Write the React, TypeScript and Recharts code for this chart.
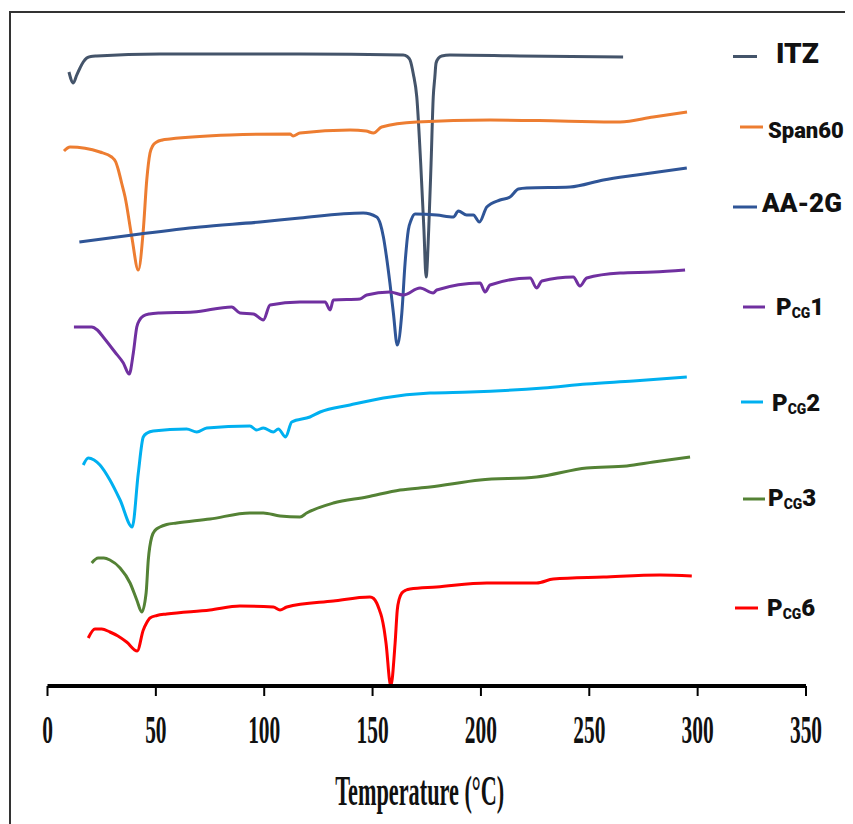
import React from "react";
import { LineChart, Line, XAxis, YAxis, Label } from "recharts";

// DSC thermograms, heat flow in arbitrary units (curves offset for clarity)
const itzTemp = [9.9, 11.9, 13.5, 15.0, 16.5, 18.1, 20.0, 22.7, 51.9, 84.2, 116.5, 164.1, 166.0, 167.3, 168.8, 170.4, 172.2, 173.7, 174.7, 175.9, 177.0, 178.0, 178.7, 179.3, 180.5, 181.9, 185.7, 218, 265.6];
const itzHeat = [614, 603, 611, 618, 624, 628, 629.5, 630, 632, 632, 632, 631, 629.5, 626, 612, 589, 523, 456, 409, 456, 523, 589, 608, 623, 628, 630, 631, 630, 629];

const spanTemp = [7.6, 10.4, 24.2, 29.6, 31.5, 32.7, 34.2, 35.8, 38.9, 41.9, 44.2, 45.8, 47.3, 48.5, 50.4, 53.0, 56.5, 84.2, 111.9, 113.3, 116.5, 139.6, 147, 150.4, 154.2, 170.4, 204.2, 236.5, 264.2, 279.5, 295.1];
const spanHeat = [535, 539, 534, 529, 524, 516, 503, 489, 449, 416, 456, 506, 533, 540, 544, 546, 547, 551, 552, 550, 553, 556, 555, 553, 559, 564, 566, 565, 564, 569, 574];

const aaTemp = [14.7, 42.7, 70.4, 98.1, 116.5, 145.7, 151.9, 153.6, 155.0, 156.5, 158.0, 159.6, 161.4, 163.5, 165.0, 166.5, 167.8, 169.6, 179.6, 187.3, 189.6, 193.4, 196.5, 199.3, 202.7, 208.8, 213.4, 217.3, 221.1, 241.1, 256.5, 271.9, 295.0];
const aaHeat = [444, 452, 459, 464, 468, 473, 469, 462, 449, 428, 403, 373, 341, 373, 423, 456, 466, 472, 471, 469, 475, 471, 471, 464, 479, 486, 489, 497, 498, 499, 506, 511, 518];

const pcg1Temp = [12.2, 20.4, 23.0, 25.7, 31.1, 35.0, 37.7, 39.6, 41.2, 42.5, 44.2, 47.0, 51.9, 67.3, 85.0, 88.8, 95.0, 99.6, 102.7, 116.5, 128.1, 130.4, 131.9, 144.2, 147.3, 158.0, 164.2, 171.9, 178.0, 179.6, 199.6, 201.9, 204.2, 222.7, 225.7, 228.1, 242.6, 245.7, 248.8, 264.2, 279.6, 294.2];
const pcg1Heat = [359, 359, 356, 349, 334, 323, 312, 333, 359, 366, 370, 372, 373, 374, 379, 373, 372, 366, 381, 384, 384, 376, 386, 387, 391, 394, 391, 398, 393, 396, 403, 394, 401, 408, 398, 405, 409, 400, 408, 413, 414, 416];

const pcg2Temp = [16.5, 18.8, 21.5, 24.2, 28.8, 33.5, 39.1, 41.9, 44.2, 46.0, 48.8, 64.2, 68.9, 73.5, 93.4, 96.5, 99.6, 104.2, 106.5, 109.9, 112.7, 121.1, 125.8, 139.6, 155.0, 176.5, 195.0, 228.8, 248.8, 270.3, 295.0];
const pcg2Heat = [221, 228, 226, 221, 206, 186, 159, 213, 249, 253, 255, 257, 254, 258, 260, 256, 258, 254, 257, 249, 264, 269, 274, 281, 288, 293, 294, 298, 302, 305, 309];

const pcg3Temp = [20.4, 23.4, 26.0, 28.8, 33.5, 38.1, 41.2, 43.5, 45.5, 46.5, 48.1, 49.8, 51.9, 55.0, 59.6, 75.0, 93.4, 99.6, 107.3, 116.5, 119.6, 131.9, 147.3, 162.7, 176.5, 199.6, 225.7, 248.8, 267.3, 279.6, 296.5];
const pcg3Heat = [123, 128, 128, 126, 118, 103, 86, 74, 93, 126, 149, 156, 159, 161.5, 163, 167, 173, 173, 170, 169, 173, 183, 189, 196, 199, 206, 209, 218, 220, 224, 229];

const pcg6Temp = [18.8, 21.9, 25.0, 28.8, 32.5, 36.5, 41.4, 44.2, 45.7, 47.3, 50.5, 55.0, 75.0, 88.8, 104.2, 107.3, 110.4, 131.9, 148.8, 150.5, 151.9, 153.0, 154.2, 155.3, 156.2, 158.4, 160.4, 161.4, 162.3, 163.5, 165.5, 167.3, 179.6, 202.7, 225.7, 233.4, 256.5, 282.6, 297.3];
const pcg6Heat = [48, 57, 57, 54, 50, 44, 35, 56, 63, 68, 70.5, 72, 76, 80, 79, 76, 79, 85, 89, 87.5, 83, 77, 69, 57, 43, 0, 43, 76, 87, 93, 96, 97, 99, 103, 103, 107, 109, 111, 110];

const xTicks = [0, 50, 100, 150, 200, 250, 300, 350];

const toPoints = (temps: number[], heat: number[]) =>
  temps.map((t, i) => ({ t, v: heat[i] }));

const series = [
  { key: "itz", name: "ITZ", color: "#44546A", data: toPoints(itzTemp, itzHeat) },
  { key: "span", name: "Span60", color: "#ED7D31", data: toPoints(spanTemp, spanHeat) },
  { key: "aa", name: "AA-2G", color: "#2F5597", data: toPoints(aaTemp, aaHeat) },
  { key: "pcg1", name: "PCG1", color: "#7030A0", data: toPoints(pcg1Temp, pcg1Heat) },
  { key: "pcg2", name: "PCG2", color: "#00B0F0", data: toPoints(pcg2Temp, pcg2Heat) },
  { key: "pcg3", name: "PCG3", color: "#548235", data: toPoints(pcg3Temp, pcg3Heat) },
  { key: "pcg6", name: "PCG6", color: "#FF0000", data: toPoints(pcg6Temp, pcg6Heat) },
];

// legend placement (line x1, x2, y / text x, baseline, size)
const legendLayout: Record<string, number[]> = {
  itz: [725, 749, 48.5, 768, 55, 28],
  span: [732, 755, 119, 760, 130, 22],
  aa: [725, 749, 199, 754, 203.5, 26],
  pcg1: [735, 757, 299, 768, 307, 24],
  pcg2: [733, 755, 394, 764, 402.5, 24],
  pcg3: [735, 757, 491, 760, 497.5, 24],
  pcg6: [727, 750, 600, 759, 607.5, 24],
};

const serif = "'Liberation Serif', 'Times New Roman', serif";

const TempTick = (props: any) => {
  const { x, y, payload } = props;
  return (
    <text
      transform={`translate(${x},${y + 45}) scale(0.55,1)`}
      textAnchor="middle"
      fontFamily={serif}
      fontWeight="bold"
      fontSize={39}
      fill="#111"
    >
      {payload.value}
    </text>
  );
};

const AxisTitle = (props: any) => {
  const vb = props.viewBox || { x: 39.5, y: 678, width: 758.5 };
  const cx = vb.x + vb.width / 2 - 7;
  return (
    <text
      transform={`translate(${cx},${vb.y + 119}) scale(0.53,1)`}
      textAnchor="middle"
      fontFamily={serif}
      fontWeight="bold"
      fontSize={42}
      fill="#111"
    >
      Temperature (°C)
    </text>
  );
};

const LegendLabel = ({ name, x, y, size }: { name: string; x: number; y: number; size: number }) => {
  const sans = "Roboto, 'Liberation Sans', Arial, sans-serif";
  if (name.startsWith("PCG")) {
    return (
      <text x={x} y={y} fontFamily={sans} fontWeight={900} fontSize={size} fill="#111">
        <tspan>P</tspan>
        <tspan fontSize={size * 0.58} dy={3}>CG</tspan>
        <tspan dy={-3}>{name.slice(3)}</tspan>
      </text>
    );
  }
  return (
    <text x={x} y={y} fontFamily={sans} fontWeight={900} fontSize={size} fill="#111">
      {name}
    </text>
  );
};

export default function App() {
  return (
    <div style={{ position: "relative", width: 845, height: 816, overflow: "hidden", background: "#fff" }}>
      <style>{"body{overflow:hidden}"}</style>
      <div
        style={{
          position: "absolute",
          left: 1,
          top: 3,
          width: 900,
          height: 900,
          borderTop: "2px solid #333",
          borderLeft: "2px solid #333",
        }}
      />
      <LineChart
        width={845}
        height={816}
        margin={{ top: 18, right: 47, left: 39.5, bottom: 20 }}
      >
        <XAxis
          dataKey="t"
          type="number"
          domain={[0, 350]}
          ticks={xTicks}
          allowDataOverflow
          height={118}
          axisLine={{ stroke: "#000", strokeWidth: 4 }}
          tickLine={{ stroke: "#000", strokeWidth: 2 }}
          tickSize={10}
          tick={<TempTick />}
          interval={0}
        >
          <Label content={<AxisTitle />} />
        </XAxis>
        <YAxis hide domain={[0, 660]} allowDataOverflow />
        {series.map((s) => (
          <Line
            key={s.key}
            data={s.data}
            dataKey="v"
            name={s.name}
            type="monotone"
            stroke={s.color}
            strokeWidth={3}
            strokeLinejoin="round"
            dot={false}
            activeDot={false}
            isAnimationActive={false}
          />
        ))}
      </LineChart>
      <svg
        width={845}
        height={816}
        style={{ position: "absolute", left: 0, top: 0, pointerEvents: "none" }}
      >
        {series.map((s) => {
          const [x1, x2, ly, tx, ty, size] = legendLayout[s.key];
          return (
            <g key={s.key}>
              <line x1={x1} x2={x2} y1={ly} y2={ly} stroke={s.color} strokeWidth={3} />
              <LegendLabel name={s.name} x={tx} y={ty} size={size} />
            </g>
          );
        })}
      </svg>
    </div>
  );
}
